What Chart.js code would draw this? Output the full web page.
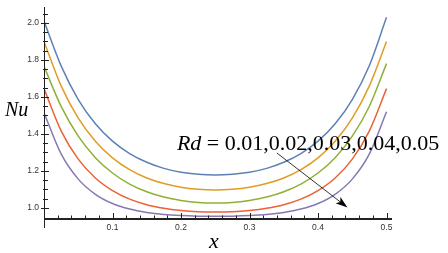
<!DOCTYPE html>
<html>
<head>
<meta charset="utf-8">
<script src="https://cdn.jsdelivr.net/npm/chart.js@4.4.0/dist/chart.umd.min.js"></script>
<style>
  html, body { margin: 0; padding: 0; background: #fff; }
  #wrap { position: relative; width: 448px; height: 253px; }
</style>
</head>
<body>
<div id="wrap"><canvas id="chart"></canvas></div>
<script>
// x positions along the plate
const xValues = [0, 0.025, 0.05, 0.075, 0.1, 0.125, 0.15, 0.175, 0.2, 0.225, 0.25,
                 0.275, 0.3, 0.325, 0.35, 0.375, 0.4, 0.425, 0.45, 0.475, 0.5];

// Nusselt number for each Rd
const nuRd001 = [2.01, 1.768, 1.586, 1.455, 1.361, 1.294, 1.247, 1.214, 1.193, 1.182, 1.178,
                 1.182, 1.193, 1.214, 1.247, 1.294, 1.361, 1.455, 1.586, 1.77, 2.03];
const nuRd002 = [1.90, 1.66, 1.486, 1.361, 1.271, 1.207, 1.162, 1.132, 1.112, 1.101, 1.097,
                 1.101, 1.112, 1.132, 1.162, 1.207, 1.271, 1.361, 1.486, 1.66, 1.90];
const nuRd003 = [1.765, 1.549, 1.388, 1.272, 1.189, 1.129, 1.088, 1.059, 1.041, 1.030, 1.027,
                 1.030, 1.041, 1.059, 1.088, 1.129, 1.189, 1.272, 1.388, 1.55, 1.78];
const nuRd004 = [1.645, 1.417, 1.264, 1.162, 1.094, 1.048, 1.018, 0.999, 0.987, 0.980, 0.978,
                 0.980, 0.987, 0.999, 1.018, 1.048, 1.094, 1.162, 1.264, 1.417, 1.645];
const nuRd005 = [1.515, 1.292, 1.156, 1.074, 1.024, 0.994, 0.976, 0.965, 0.959, 0.956, 0.955,
                 0.956, 0.959, 0.965, 0.976, 0.994, 1.024, 1.074, 1.156, 1.292, 1.52];

const rdValues = ['0.01', '0.02', '0.03', '0.04', '0.05'];
const seriesList = [nuRd001, nuRd002, nuRd003, nuRd004, nuRd005];
const lineColors = ['#5e81b5', '#e19c24', '#8fb032', '#eb6235', '#8778b3'];

const xTickLabels = ['0.1', '0.2', '0.3', '0.4', '0.5'];
const yTickLabels = ['1.0', '1.2', '1.4', '1.6', '1.8', '2.0'];

const datasets = seriesList.map((vals, i) => ({
  label: 'Rd = ' + rdValues[i],
  data: xValues.map((x, j) => ({ x: x, y: vals[j] })),
  borderColor: lineColors[i],
  borderWidth: 1.5,
  pointRadius: 0,
  fill: false,
  cubicInterpolationMode: 'monotone'
}));

// Mathematica-like axes, ticks, labels and the arrow annotation
const axesPlugin = {
  id: 'mmaAxes',
  afterDraw(chart) {
    const ctx = chart.ctx;
    const a = chart.chartArea;
    const sx = chart.scales.x;
    const sy = chart.scales.y;
    const x0 = sx.getPixelForValue(0);
    ctx.save();
    ctx.strokeStyle = '#222';

    // x axis
    ctx.lineWidth = 2;
    ctx.beginPath();
    ctx.moveTo(x0, a.bottom);
    ctx.lineTo(a.right, a.bottom);
    ctx.stroke();

    // y axis
    ctx.lineWidth = 1;
    ctx.beginPath();
    ctx.moveTo(x0 + 0.5, a.top);
    ctx.lineTo(x0 + 0.5, a.bottom + 9);
    ctx.stroke();

    // x ticks
    for (let k = 1; k <= 25; k++) {
      const px = Math.round(sx.getPixelForValue(k * 0.02)) + 0.5;
      const len = (k % 5 === 0) ? 6 : 3.5;
      ctx.beginPath();
      ctx.moveTo(px, a.bottom);
      ctx.lineTo(px, a.bottom - len);
      ctx.stroke();
    }
    // y ticks
    for (let k = 0; k <= 22; k++) {
      const v = 1.0 + k * 0.05;
      if (v > sy.max) break;
      const py = Math.round(sy.getPixelForValue(v)) + 0.5;
      const major = (k % 4 === 0);
      ctx.beginPath();
      ctx.moveTo(x0 + (major ? -3 : -1), py);
      ctx.lineTo(x0 + (major ? 5 : 4), py);
      ctx.stroke();
    }

    // tick labels
    ctx.fillStyle = '#333';
    ctx.font = '8.5px "Liberation Sans", Arial, sans-serif';
    ctx.textAlign = 'center';
    ctx.textBaseline = 'middle';
    xTickLabels.forEach(t => {
      ctx.fillText(t, sx.getPixelForValue(parseFloat(t)), a.bottom + 9);
    });
    ctx.textAlign = 'right';
    yTickLabels.forEach(t => {
      ctx.fillText(t, x0 - 5, sy.getPixelForValue(parseFloat(t)));
    });

    // axis titles
    ctx.fillStyle = '#000';
    ctx.textAlign = 'left';
    ctx.textBaseline = 'alphabetic';
    ctx.font = 'italic 20px "Liberation Serif", "Times New Roman", serif';
    ctx.fillText('Nu', 5, 116);
    ctx.font = 'italic 22px "Liberation Serif", "Times New Roman", serif';
    ctx.fillText('x', 209, 248);

    // Rd annotation
    const tx = sx.getPixelForValue(0.194);
    const ty = sy.getPixelForValue(1.316);
    ctx.font = 'italic 22px "Liberation Serif", "Times New Roman", serif';
    ctx.fillText('Rd', tx, ty);
    const w = ctx.measureText('Rd').width;
    ctx.font = '22px "Liberation Serif", "Times New Roman", serif';
    ctx.fillText(' = ' + rdValues.join(','), tx + w, ty);

    // arrow
    const ax1 = sx.getPixelForValue(0.340), ay1 = sy.getPixelForValue(1.297);
    const ax2 = sx.getPixelForValue(0.443), ay2 = sy.getPixelForValue(1.003);
    const ang = Math.atan2(ay2 - ay1, ax2 - ax1);
    ctx.strokeStyle = '#000';
    ctx.lineWidth = 0.8;
    ctx.beginPath();
    ctx.moveTo(ax1, ay1);
    ctx.lineTo(ax2 - 8 * Math.cos(ang), ay2 - 8 * Math.sin(ang));
    ctx.stroke();
    ctx.fillStyle = '#000';
    ctx.beginPath();
    ctx.moveTo(ax2, ay2);
    ctx.lineTo(ax2 - 12 * Math.cos(ang) + 4 * Math.sin(ang), ay2 - 12 * Math.sin(ang) - 4 * Math.cos(ang));
    ctx.lineTo(ax2 - 9 * Math.cos(ang), ay2 - 9 * Math.sin(ang));
    ctx.lineTo(ax2 - 12 * Math.cos(ang) - 4 * Math.sin(ang), ay2 - 12 * Math.sin(ang) + 4 * Math.cos(ang));
    ctx.closePath();
    ctx.fill();
    ctx.restore();
  }
};

new Chart(document.getElementById('chart'), {
  type: 'line',
  data: { datasets: datasets },
  options: {
    responsive: true,
    maintainAspectRatio: false,
    animation: false,
    layout: { padding: { left: 44, right: 56, top: 7, bottom: 34 } },
    plugins: { legend: { display: false }, tooltip: { enabled: false } },
    scales: {
      x: { type: 'linear', min: 0, max: 0.508, display: false },
      y: { type: 'linear', min: 0.9405, max: 2.086, display: false }
    }
  },
  plugins: [axesPlugin]
});
</script>
</body>
</html>
